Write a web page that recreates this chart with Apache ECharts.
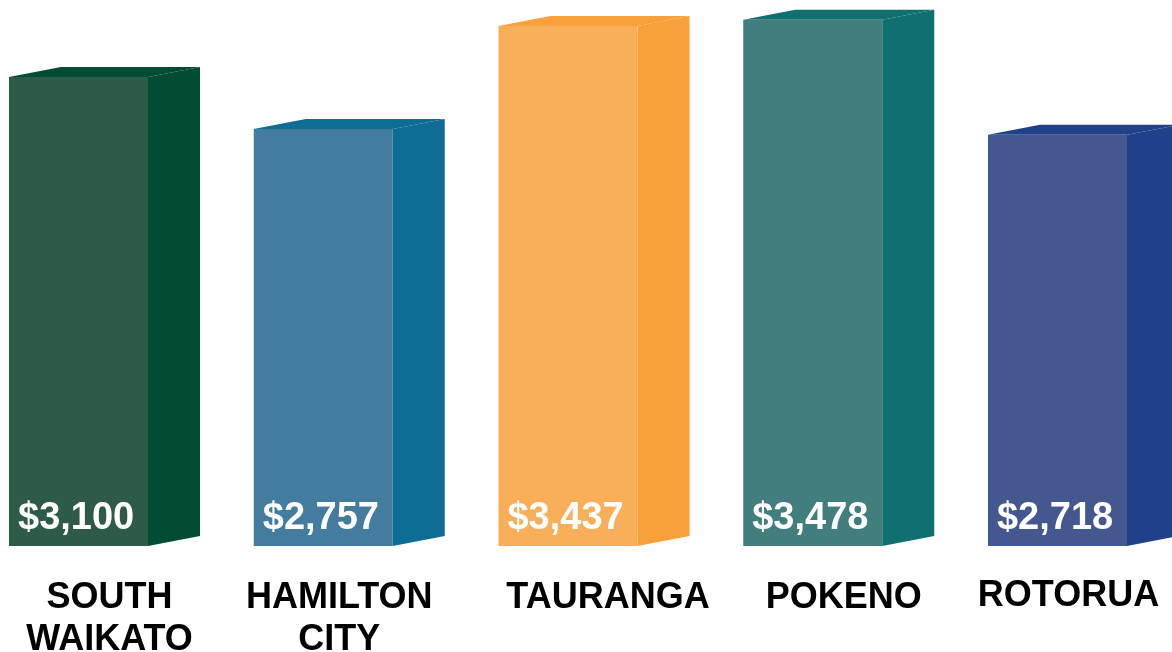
<!DOCTYPE html>
<html>
<head>
<meta charset="utf-8">
<script src="https://cdn.jsdelivr.net/npm/echarts@6/dist/echarts.min.js"></script>
<style>
html,body{margin:0;padding:0;background:#fff;}
#chart{width:1172px;height:652px;}
</style>
</head>
<body>
<div id="chart"></div>
<script>
const categories = ['SOUTH\nWAIKATO', 'HAMILTON\nCITY', 'TAURANGA', 'POKENO', 'ROTORUA'];
const values = [3100, 2757, 3437, 3478, 2718];
const valueLabels = ['$3,100', '$2,757', '$3,437', '$3,478', '$2,718'];

const frontColors = ['#2e5a48', '#437c9f', '#f9ae5a', '#427e7e', '#44578f'];
const sideColors = ['#014c32', '#0e6d94', '#f8a13a', '#106f6f', '#21408a'];
const labelNudgeX = [5, -10, 14, 5, -15];
const labelNudgeY = [0, 0, 0, 0, -2];

const chart = echarts.init(document.getElementById('chart'));
chart.setOption({
  animation: false,
  backgroundColor: '#ffffff',
  grid: { left: 0, right: 0, top: 0, bottom: 106 },
  xAxis: { type: 'value', min: -0.427, max: 4.3616, show: false, splitLine: { show: false } },
  yAxis: { type: 'value', min: 0, max: 3609, show: false, splitLine: { show: false } },
  series: [{
    type: 'custom',
    clip: false,
    data: values.map((v, i) => [i, v]),
    renderItem: function (params, api) {
      const i = api.value(0);
      const v = api.value(1);
      const top = api.coord([i, v]);
      const base = api.coord([i, 0]);
      const bandW = api.size([1, 0])[0];
      const frontW = bandW * 0.568;
      const depth = bandW * 0.2125;
      const dy = 10;
      const cx = top[0];
      const left = cx - (frontW + depth) / 2;
      const fr = left + frontW;
      const yT = top[1];
      const yB = base[1];
      return {
        type: 'group',
        children: [
          { type: 'polygon', shape: { points: [[fr, yT], [fr + depth, yT - dy], [fr + depth, yB - dy], [fr, yB]] },
            style: { fill: sideColors[i] } },
          { type: 'polygon', shape: { points: [[left, yT], [left + depth, yT - dy], [fr + depth, yT - dy], [fr, yT]] },
            style: { fill: sideColors[i] } },
          { type: 'rect', shape: { x: left, y: yT, width: frontW, height: yB - yT },
            style: { fill: frontColors[i] } },
          { type: 'text', style: { x: left + 9, y: yB - 8, text: valueLabels[i], fill: '#fff',
              font: 'bold 38px "Liberation Sans"', textAlign: 'left', textVerticalAlign: 'bottom' } },
          { type: 'text', style: { x: cx + labelNudgeX[i], y: yB + 31 + labelNudgeY[i], text: categories[i], fill: '#000',
              font: 'bold 36px "Liberation Sans"', lineHeight: 42, textAlign: 'center', textVerticalAlign: 'top' } }
        ]
      };
    }
  }]
});
</script>
</body>
</html>
